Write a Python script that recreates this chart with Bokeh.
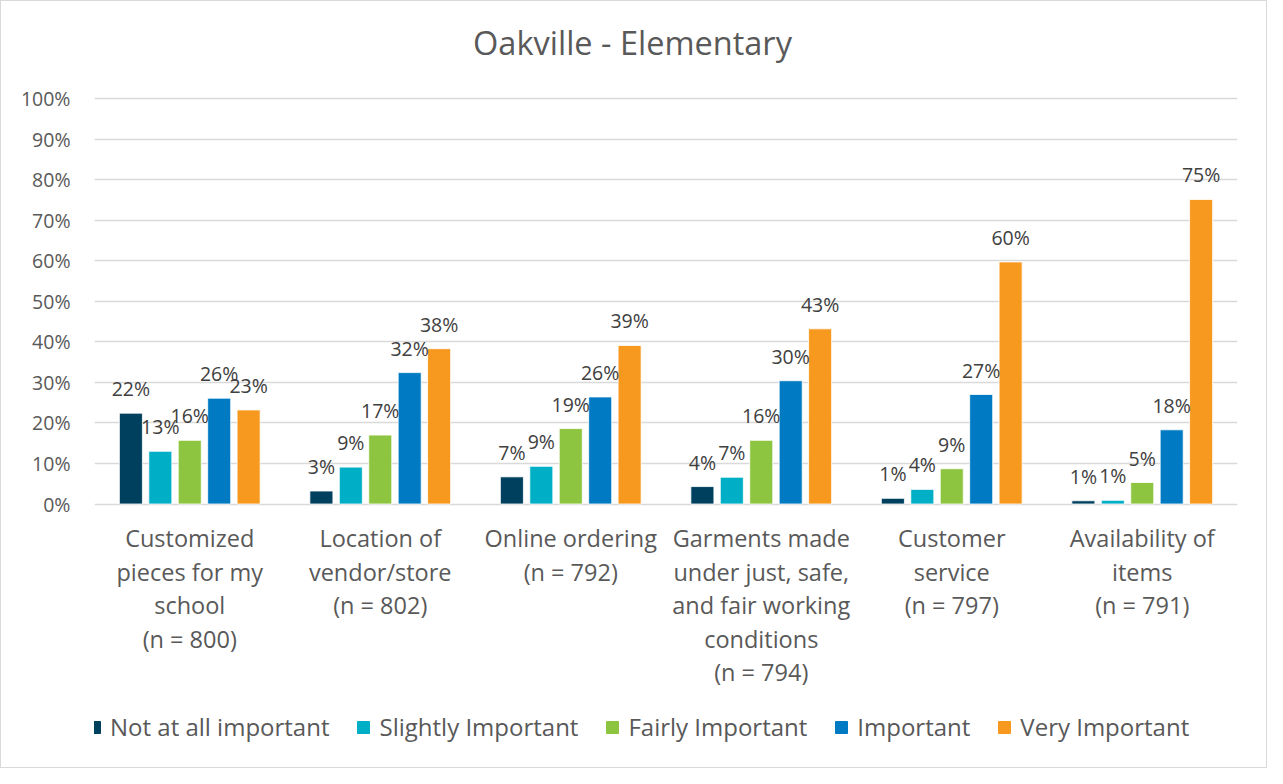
from bokeh.plotting import figure
from bokeh.models import (ColumnDataSource, FactorRange, Range1d, NumeralTickFormatter,
                          Legend, LegendItem, FixedTicker, LabelSet, Label)
from bokeh.transform import dodge
from bokeh.core.properties import value
from bokeh.embed import file_html
from bokeh.resources import INLINE

# ---------------- data ----------------
title_text = "Oakville - Elementary"
categories = [
    "Customized\npieces for my\nschool\n(n = 800)",
    "Location of\nvendor/store\n(n = 802)",
    "Online ordering\n(n = 792)",
    "Garments made\nunder just, safe,\nand fair working\nconditions\n(n = 794)",
    "Customer\nservice\n(n = 797)",
    "Availability of\nitems\n(n = 791)",
]
series_names = ["Not at all important", "Slightly Important", "Fairly Important",
                "Important", "Very Important"]
not_at_all = [0.224, 0.032, 0.067, 0.043, 0.014, 0.008]
slightly = [0.130, 0.091, 0.093, 0.066, 0.036, 0.009]
fairly = [0.157, 0.170, 0.186, 0.157, 0.087, 0.053]
important = [0.261, 0.324, 0.264, 0.304, 0.270, 0.183]
very = [0.232, 0.383, 0.391, 0.432, 0.597, 0.751]
y_ticks = [0, 0.1, 0.2, 0.3, 0.4, 0.5, 0.6, 0.7, 0.8, 0.9, 1.0]

colors = ["#00405f", "#00afc6", "#8dc540", "#007bc3", "#f7981f"]
series = [not_at_all, slightly, fairly, important, very]
keys = ["s0", "s1", "s2", "s3", "s4"]

FONT = "Open Sans"
GREY = "#595959"

# layout constants (pixels -> data units: 405.5 px per 100%)
PX = 1.0 / 405.5
Y_TOP = 502.5 * PX
Y_BOTTOM = -(768 - 502.5) * PX
LINE1 = -43.1 * PX
LINE_STEP = 33.55 * PX

data = {"cat": categories}
for k, vals in zip(keys, series):
    data[k] = vals
    data[k + "_lbl"] = ["{:.0f}%".format(v * 100) for v in vals]
source = ColumnDataSource(data)

# one row per text line of each category label (so each line is centred)
lx, ly, lt = [], [], []
for c in categories:
    for i, line in enumerate(c.split("\n")):
        lx.append(c)
        ly.append(LINE1 - i * LINE_STEP)
        lt.append(line)
cat_source = ColumnDataSource({"x": lx, "y": ly, "t": lt})

p = figure(width=1267, height=768, output_backend="svg", toolbar_location=None,
           x_range=FactorRange(*categories, range_padding=0.0),
           y_range=Range1d(Y_BOTTOM, Y_TOP),
           min_border_left=93, min_border_right=31, min_border_top=0, min_border_bottom=0)

p.outline_line_color = None
p.background_fill_color = "white"
p.border_fill_color = "white"
p.styles = {"border": "1px solid #d9d9d9"}

p.xgrid.grid_line_color = None
p.ygrid.grid_line_color = "#d9d9d9"
p.ygrid.grid_line_width = 1.5
p.ygrid.ticker = FixedTicker(ticks=y_ticks)

p.yaxis.ticker = FixedTicker(ticks=y_ticks)
p.yaxis.formatter = NumeralTickFormatter(format="0%")
p.yaxis.axis_line_color = None
p.yaxis.major_tick_line_color = None
p.yaxis.minor_tick_line_color = None
p.yaxis.major_label_text_font = FONT
p.yaxis.major_label_text_font_size = "19.5px"
p.yaxis.major_label_text_color = GREY
p.yaxis.major_label_standoff = 18

p.xaxis.visible = False

# chart title
title = Label(x=538, x_units="screen", y=(502.5 - 41) * PX, text=title_text,
              text_align="center", text_baseline="middle",
              text_font=FONT, text_font_size="32.5px", text_color=GREY)
p.add_layout(title)

# category labels under the 0% line, positioned with the x scale
cat_labels = LabelSet(x="x", y="y", text="t", source=cat_source,
                      text_align="center", text_baseline="alphabetic",
                      text_font=value(FONT), text_font_size=value("23.5px"),
                      text_color=GREY)
p.add_layout(cat_labels)

offsets = [-0.309, -0.1545, 0.0, 0.1545, 0.309]
items = []
for k, name, c, off, vals in zip(keys, series_names, colors, offsets, series):
    p.vbar(x=dodge("cat", off, range=p.x_range), top=k, width=0.121, source=source,
           fill_color=c, line_color="white", line_width=0.8)
    # hidden square-marker renderer: only supplies the square legend swatch
    sw = p.scatter(x=categories[:1], y=vals[:1], marker="square", size=12,
                   fill_color=c, line_color=c, visible=False)
    items.append(LegendItem(label=name, renderers=[sw]))
    lbl = LabelSet(x=dodge("cat", off, range=p.x_range), y=k, text=k + "_lbl", source=source,
                   text_align="center", text_baseline="alphabetic", y_offset=17,
                   text_font=value(FONT), text_font_size=value("19.5px"), text_color="#404040")
    p.add_layout(lbl)

legend = Legend(items=items, orientation="horizontal", location=(-15, 26),
                label_text_font=FONT, label_text_font_size="24px", label_text_color=GREY,
                glyph_width=30, glyph_height=30, label_standoff=1, spacing=19,
                border_line_color=None, background_fill_alpha=0, padding=4, margin=0,
                click_policy="none")
p.add_layout(legend, "center")

open("out.html", "w").write(file_html(p, INLINE))
